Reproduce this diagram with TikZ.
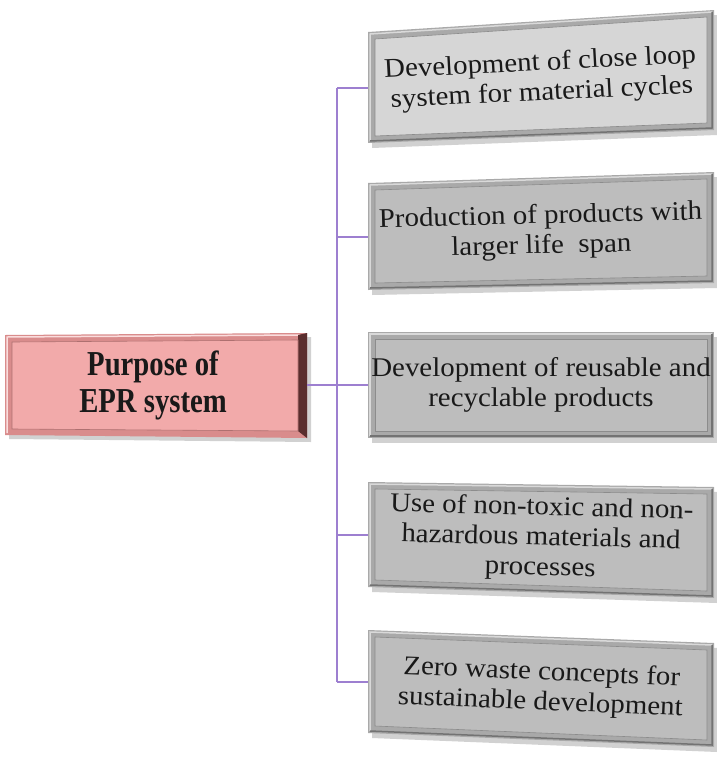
\documentclass[tikz,border=0pt]{standalone}
\usepackage{fontspec}
\setmainfont{Liberation Serif}
\definecolor{conncol}{HTML}{9D7FD0}
\definecolor{boxlight}{HTML}{D6D6D6}
\definecolor{boxgray}{HTML}{BDBDBD}
\definecolor{framegray}{HTML}{A9A9A9}
\definecolor{pinkfill}{HTML}{F2AAAA}
\definecolor{pinkframe}{HTML}{D98C8C}
\definecolor{pinkdark}{HTML}{5A2E2E}
\newcommand{\bevbox}[8]{%
  \fill[black!30,opacity=0.6] (372,#2+5) -- (717,#3+5) -- (717,#4+5) -- (372,#5+5) -- cycle;
  \fill[framegray] (368,#2) -- (714,#3) -- (714,#4) -- (368,#5) -- cycle;
  \draw[white!85!black,line width=1.5pt] (370,#5-2) -- (370,#2+2) -- (712,#3+2);
  \draw[black!55,line width=1.5pt] (712,#3+2) -- (712,#4-2) -- (370,#5-2);
  \fill[#6,draw=black!45,line width=0.6pt] (375,#2+7) -- (707,#3+7) -- (707,#4-7) -- (375,#5-7) -- cycle;
  \node[boxtext,rotate=#7] (#1) at (541,{(#2+#3+#4+#5)/4}) {#8};
  \coordinate (#1-w) at (368,{(#2+#5)/2});
}
\begin{document}
\begin{tikzpicture}[x=1pt,y=-1pt,
  boxtext/.style={align=center,font=\fontsize{27}{30}\selectfont,inner sep=0pt,xscale=1.07,text=black!90},
  conn/.style={draw=conncol,line width=2pt}]
\useasboundingbox (0,0) rectangle (717,758);
% centre box
\fill[black!30,opacity=0.6] (9,339) -- (311,337) -- (311,442) -- (9,439) -- cycle;
\fill[pinkframe] (5,335) -- (307,333) -- (307,438) -- (5,435) -- cycle;
\draw[white!60!pinkfill,line width=1.5pt] (7,433) -- (7,337) -- (300,335);
\fill[pinkdark] (298,335) -- (307,333) -- (307,438) -- (298,431) -- cycle;
\fill[pinkfill,draw=pinkframe!80!black,line width=0.6pt] (12,342) -- (298,340) -- (298,431) -- (12,429) -- cycle;
\node[align=center,font=\fontsize{35}{37}\selectfont\bfseries,inner sep=0pt,xscale=0.82,text=black!90] (purpose) at (153,385) {Purpose of\\EPR system};
\coordinate (purpose-e) at (307,385);
% branch boxes
\bevbox{b1}{32}{10}{130}{143}{boxlight}{3}{Development of close loop\\system for material cycles}
\bevbox{b2}{183}{172}{283}{290}{boxgray}{1.5}{Production of products with\\larger life\ \ span}
\bevbox{b3}{332}{332}{438}{438}{boxgray}{0}{Development of reusable and\\recyclable products}
\bevbox{b4}{482}{487}{598}{587}{boxgray}{-1.5}{Use of non-toxic and non-\\hazardous materials and\\processes}
\bevbox{b5}{630}{643}{747}{733}{boxgray}{-2.5}{Zero waste concepts for\\sustainable development}
% connectors
\coordinate (trunk) at (337,385);
\draw[conn] (b1-w -| trunk) -- (b5-w -| trunk);
\draw[conn] (purpose-e) -- (purpose-e -| trunk);
\foreach \b in {b1,b2,b3,b4,b5}{\draw[conn] (\b-w -| trunk) -- (\b-w);}
\end{tikzpicture}
\end{document}
